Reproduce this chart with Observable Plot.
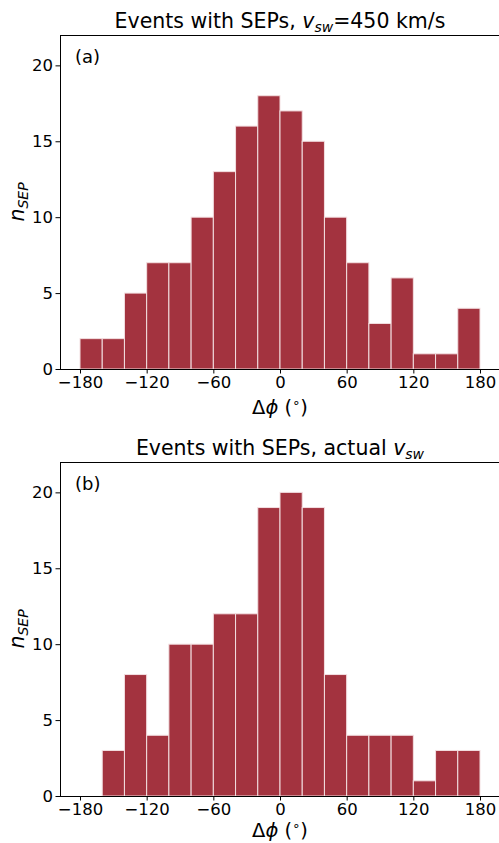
<!DOCTYPE html>
<html>
<head>
<meta charset="utf-8">
<script src="https://cdn.jsdelivr.net/npm/d3@7"></script>
<script src="https://cdn.jsdelivr.net/npm/@observablehq/plot@0.6"></script>
<style>
  html, body { margin: 0; padding: 0; background: #fff; }
  #chart svg { display: block; }
</style>
</head>
<body>
<div id="chart"></div>
<script>
// Bin left edges (degrees), bin width 20°
const binStarts = [-180, -160, -140, -120, -100, -80, -60, -40, -20, 0, 20, 40, 60, 80, 100, 120, 140, 160];
const binWidth = 20;
// Panel (a): v_sw = 450 km/s
const countsA = [2, 2, 5, 7, 7, 10, 13, 16, 18, 17, 15, 10, 7, 3, 6, 1, 1, 4];
// Panel (b): actual v_sw
const countsB = [0, 3, 8, 4, 10, 10, 12, 12, 19, 20, 19, 8, 4, 4, 4, 1, 3, 3];
const xTicks = [-180, -120, -60, 0, 60, 120, 180];
const yTicks = [0, 5, 10, 15, 20];
const xDomain = [-198, 197.1];
const yDomain = [0, 22];

const barFill = "#a3333f";
const barEdge = "#f3dfe1";
const FONT = "DejaVu Sans";
const TICK_FS = 16.5;

function makePanel(counts, opts) {
  const data = binStarts.map((s, i) => ({x1: s, x2: s + binWidth, n: counts[i]}));
  const svg = Plot.plot({
    width: 499,
    height: opts.height,
    marginTop: opts.marginTop,
    marginBottom: opts.marginBottom,
    marginLeft: 60,
    marginRight: 0,
    style: {fontFamily: FONT, fontSize: TICK_FS + "px", color: "black", background: "white", overflow: "visible"},
    x: {domain: xDomain},
    y: {domain: yDomain},
    marks: [
      Plot.rectY(data, {x1: "x1", x2: "x2", y: "n", fill: barFill, stroke: barEdge, strokeWidth: 1, inset: 0}),
      Plot.ruleY([yDomain[0], yDomain[1]], {stroke: "black", strokeWidth: 1}),
      Plot.ruleX([xDomain[0]], {stroke: "black", strokeWidth: 1}),
      Plot.axisX({ticks: xTicks, tickSize: 4.5, tickPadding: 2, label: null, fontSize: TICK_FS, stroke: "black"}),
      Plot.axisY({ticks: yTicks, tickSize: 4.5, tickPadding: 3, label: null, fontSize: TICK_FS, stroke: "black"})
    ]
  });
  const s = d3.select(svg);
  const top = opts.marginTop;
  const bottom = opts.height - opts.marginBottom;

  // Title
  const t = s.append("text")
    .attr("x", 280).attr("y", top - 7)
    .attr("text-anchor", "middle")
    .attr("font-family", FONT).attr("font-size", 20.5).attr("fill", "black");
  t.append("tspan").text(opts.titleHead);
  t.append("tspan").attr("font-style", "italic").text("v");
  t.append("tspan").attr("font-style", "italic").attr("font-size", 14).attr("dy", 3.5).text("sw");
  if (opts.titleTail) t.append("tspan").attr("dy", -3.5).text(opts.titleTail);

  // Panel label
  s.append("text").attr("x", 75).attr("y", top + 28)
    .attr("text-anchor", "start")
    .attr("font-family", FONT).attr("font-size", 18).attr("fill", "black")
    .text(opts.panel);

  // X label: Δϕ (°)
  const xl = s.append("text").attr("x", 280).attr("y", bottom + opts.xLabelOffset)
    .attr("text-anchor", "middle")
    .attr("font-family", FONT).attr("font-size", 19.5).attr("fill", "black");
  xl.append("tspan").text("Δ");
  xl.append("tspan").attr("font-style", "italic").text("ϕ");
  xl.append("tspan").text(" (");
  xl.append("tspan").attr("font-size", 13).attr("dy", -7).text("∘");
  xl.append("tspan").attr("dy", 7).text(")");

  // Y label: n_SEP
  const cy = (top + bottom) / 2;
  const yl = s.append("text")
    .attr("transform", `translate(24,${cy}) rotate(-90)`)
    .attr("text-anchor", "middle")
    .attr("font-family", FONT).attr("font-size", 20.5).attr("fill", "black");
  yl.append("tspan").attr("font-style", "italic").text("n");
  yl.append("tspan").attr("font-style", "italic").attr("font-size", 14).attr("dy", 3.5).text("SEP");

  return svg;
}

const chart = document.getElementById("chart");
chart.appendChild(makePanel(countsA, {height: 421, marginTop: 35, marginBottom: 52, panel: "(a)", titleHead: "Events with SEPs, ", titleTail: "=450 km/s", xLabelOffset: 44.5}));
chart.appendChild(makePanel(countsB, {height: 422, marginTop: 41, marginBottom: 47, panel: "(b)", titleHead: "Events with SEPs, actual ", titleTail: "", xLabelOffset: 41}));
</script>
</body>
</html>
